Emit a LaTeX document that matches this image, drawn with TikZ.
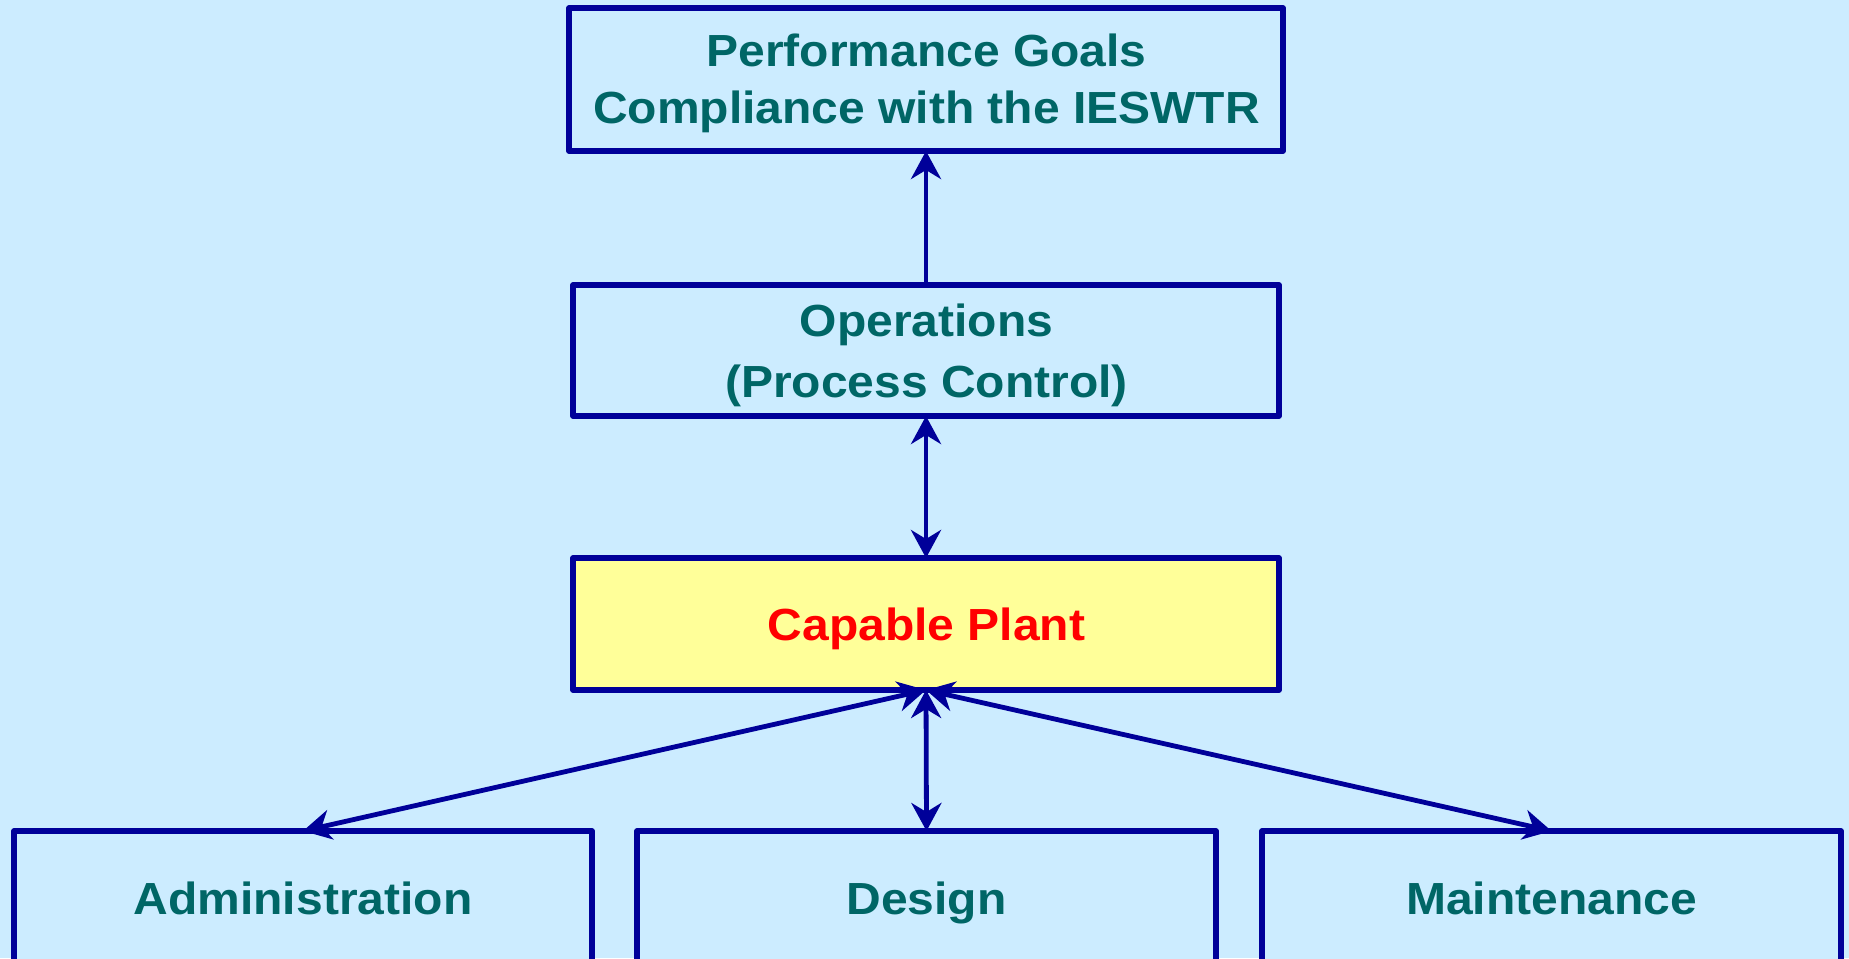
\documentclass[tikz,border=0pt]{standalone}
\usepackage{fontspec}
\setmainfont{Liberation Sans}[FakeStretch=1.067]
\usetikzlibrary{arrows.meta}
\definecolor{bgblue}{HTML}{CCECFF}
\definecolor{navyline}{HTML}{000099}
\definecolor{tealtext}{HTML}{006666}
\definecolor{paleyellow}{HTML}{FFFF99}
\definecolor{redtext}{HTML}{FF0000}
\begin{document}
\begin{tikzpicture}[x=1pt,y=-1pt,
  box/.style={draw=navyline, line width=5.5pt, line join=round, fill=bgblue, rectangle,
    outer sep=0pt, inner sep=0pt},
  lbl/.style={anchor=base, inner sep=0pt, text=tealtext, font=\fontsize{45}{54}\selectfont\bfseries},
  arr/.style={draw=navyline, line width=4.8pt, -{Stealth[length=28pt,width=30pt,inset=9pt]}},
  darr/.style={draw=navyline, line width=4.8pt, {Stealth[length=28pt,width=30pt,inset=9pt]}-{Stealth[length=28pt,width=30pt,inset=9pt]}}
]
\fill[bgblue] (0,0) rectangle (1849,958);
\useasboundingbox (0,0) rectangle (1849,958);
\begin{scope}
\clip (0,0) rectangle (1849,958);
\node[box, minimum width=714pt, minimum height=143pt] (goals) at (926,79.5) {};
\node[box, minimum width=706pt, minimum height=131pt] (ops) at (926,350.5) {};
\node[box, fill=paleyellow, minimum width=706pt, minimum height=132pt] (plant) at (926,624) {};
\node[box, minimum width=578pt, minimum height=131pt] (admin) at (303,896.5) {};
\node[box, minimum width=579pt, minimum height=131pt] (design) at (926.5,896.5) {};
\node[box, minimum width=579pt, minimum height=131pt] (maint) at (1551.5,896.5) {};
\end{scope}
\node[lbl] (goalsA) at (926.5,66.7) {Performance Goals};
\node[lbl] (goalsB) at (926.5,123) {Compliance with the IESWTR};
\node[lbl] (opsA) at (926.5,336.7) {Operations};
\node[lbl] (opsB) at (926.5,397) {(Process Control)};
\node[lbl, text=redtext] (plantT) at (926.5,640) {Capable Plant};
\node[lbl] (adminT) at (303,914.3) {Administration};
\node[lbl] (designT) at (926.5,914.3) {Design};
\node[lbl] (maintT) at (1551.5,914.3) {Maintenance};
\draw[arr] (ops.north) -- (goals.south);
\draw[darr] (ops.south) -- (plant.north);
\draw[darr] (plant.south) -- (admin.north);
\draw[darr] (plant.south) -- (design.north);
\draw[darr] (plant.south) -- (maint.north);
\end{tikzpicture}
\end{document}
